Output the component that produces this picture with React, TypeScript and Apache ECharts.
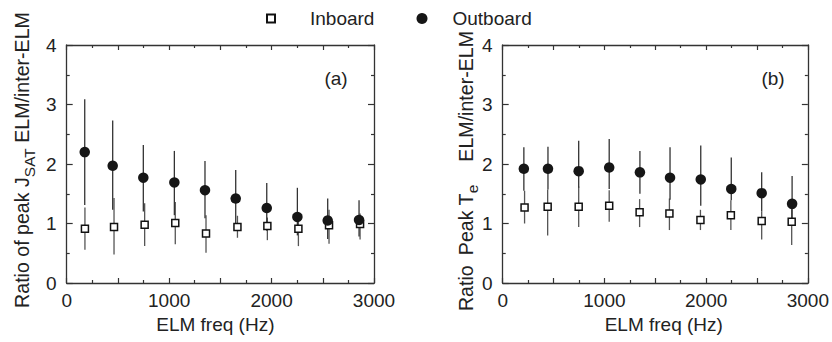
import React, { useEffect, useRef } from 'react';
import * as echarts from 'echarts';

// ---- Data ----
// Panel (a): Ratio of peak J_SAT ELM/inter-ELM
const aOutX = [176, 449, 748, 1051, 1350, 1650, 1953, 2252, 2548, 2854];
const aOutY = [2.2, 1.97, 1.77, 1.69, 1.56, 1.42, 1.26, 1.11, 1.05, 1.06];
const aOutHi = [3.09, 2.73, 2.32, 2.22, 2.05, 1.9, 1.68, 1.6, 1.42, 1.39];
const aOutLo = [1.31, 1.23, 1.2, 1.14, 1.09, 0.98, 0.88, 0.8, 0.74, 0.78];
const aInX = [178, 462, 761, 1060, 1360, 1667, 1959, 2262, 2561, 2864];
const aInY = [0.91, 0.94, 0.98, 1.01, 0.83, 0.94, 0.96, 0.91, 0.97, 0.99];
const aInHi = [1.27, 1.43, 1.34, 1.36, 1.14, 1.13, 1.1, 1.05, 1.23, 1.17];
const aInLo = [0.56, 0.48, 0.62, 0.65, 0.51, 0.76, 0.72, 0.62, 0.66, 0.73];

// Panel (b): Ratio Peak T_e ELM/inter-ELM
const bOutX = [208, 445, 747, 1047, 1349, 1645, 1947, 2247, 2546, 2845];
const bOutY = [1.92, 1.92, 1.88, 1.94, 1.86, 1.77, 1.74, 1.58, 1.51, 1.33];
const bOutHi = [2.28, 2.29, 2.39, 2.42, 2.22, 2.28, 2.31, 2.11, 1.86, 1.8];
const bOutLo = [1.55, 1.57, 1.6, 1.58, 1.5, 1.4, 1.3, 1.39, 1.2, 1.05];
const bInX = [215, 442, 747, 1047, 1346, 1639, 1944, 2243, 2546, 2841];
const bInY = [1.27, 1.28, 1.28, 1.3, 1.19, 1.17, 1.06, 1.14, 1.04, 1.03];
const bInHi = [1.55, 1.57, 1.62, 1.56, 1.41, 1.42, 1.23, 1.39, 1.2, 1.3];
const bInLo = [1.0, 0.8, 0.94, 1.03, 0.94, 0.89, 0.89, 0.89, 0.73, 0.64];

const X_MIN = 0;
const X_MAX = 3000;
const X_INTERVAL = 500;
const X_LABEL_STEP = 1000;
const Y_MIN = 0;
const Y_MAX = 4;
const Y_INTERVAL = 1;

const seriesNames = ['Inboard', 'Outboard'];
const xTitle = 'ELM freq (Hz)';
const panelLabels = ['(a)', '(b)'];

const FONT = '"Liberation Sans", Arial, Helvetica, sans-serif';
const TEXT = '#222';
const AXIS = '#333';
const FS = 19;
const TFS = 19.6;

export default function App() {
  const ref = useRef<HTMLDivElement>(null);

  useEffect(() => {
    if (!ref.current) return;
    const chart = echarts.init(ref.current, undefined, { renderer: 'svg' });

    const grids = [
      { left: 66.7, top: 45, width: 307.3, height: 238 },
      { left: 502.7, top: 45, width: 307.6, height: 238 },
    ];

    const lineStyle = { color: AXIS, width: 1.3 };
    const tickStyle = { color: AXIS, width: 1.2 };

    const xAxes: any[] = [];
    const yAxes: any[] = [];
    const titlePad = [[0, 10, 0, 0], [0, 0, 0, 17]];
    grids.forEach((_, gi) => {
      const baseX = {
        type: 'value',
        gridIndex: gi,
        min: X_MIN,
        max: X_MAX,
        interval: X_INTERVAL,
        axisLine: { show: true, onZero: false, lineStyle },
        axisTick: { show: true, inside: true, length: 5, lineStyle: tickStyle },
        minorTick: { show: true, splitNumber: 2, length: 3, lineStyle: tickStyle },
        splitLine: { show: false },
      };
      xAxes.push({
        ...baseX,
        position: 'bottom',
        axisLabel: {
          show: true,
          margin: 8,
          fontSize: FS,
          color: TEXT,
          fontFamily: FONT,
          formatter: (v: number) => (v % X_LABEL_STEP === 0 ? String(v) : ''),
        },
        name: xTitle,
        nameLocation: 'middle',
        nameGap: 31,
        nameTextStyle: { fontSize: FS, color: TEXT, fontFamily: FONT, padding: titlePad[gi] },
      });
      xAxes.push({ ...baseX, position: 'top', axisLabel: { show: false } });

      const baseY = {
        type: 'value',
        gridIndex: gi,
        min: Y_MIN,
        max: Y_MAX,
        interval: Y_INTERVAL,
        axisLine: { show: true, onZero: false, lineStyle },
        axisTick: { show: true, inside: true, length: 6, lineStyle: tickStyle },
        minorTick: { show: true, splitNumber: 2, length: 3, lineStyle: tickStyle },
        splitLine: { show: false },
      };
      yAxes.push({
        ...baseY,
        position: 'left',
        axisLabel: { show: true, margin: 10, fontSize: FS, color: TEXT, fontFamily: FONT },
      });
      yAxes.push({ ...baseY, position: 'right', axisLabel: { show: false } });
    });

    const errRender = (color: string) => (params: any, api: any) => {
      const x = api.value(0);
      const p1 = api.coord([x, api.value(1)]);
      const p2 = api.coord([x, api.value(2)]);
      return {
        type: 'line',
        shape: { x1: p1[0], y1: p1[1], x2: p2[0], y2: p2[1] },
        style: { stroke: color, lineWidth: 1.3 },
      };
    };

    const panels = [
      { inX: aInX, inY: aInY, inHi: aInHi, inLo: aInLo, outX: aOutX, outY: aOutY, outHi: aOutHi, outLo: aOutLo },
      { inX: bInX, inY: bInY, inHi: bInHi, inLo: bInLo, outX: bOutX, outY: bOutY, outHi: bOutHi, outLo: bOutLo },
    ];

    const series: any[] = [];
    panels.forEach((p, gi) => {
      const xi = gi * 2;
      const yi = gi * 2;
      series.push({
        type: 'custom',
        name: 'Inboard range',
        xAxisIndex: xi,
        yAxisIndex: yi,
        z: 1,
        renderItem: errRender('#555'),
        encode: { x: 0, y: [1, 2] },
        data: p.inX.map((x, i) => [x, p.inLo[i], p.inHi[i]]),
        silent: true,
      });
      series.push({
        type: 'custom',
        name: 'Outboard range',
        xAxisIndex: xi,
        yAxisIndex: yi,
        z: 1,
        renderItem: errRender('#333'),
        encode: { x: 0, y: [1, 2] },
        data: p.outX.map((x, i) => [x, p.outLo[i], p.outHi[i]]),
        silent: true,
      });
      series.push({
        type: 'scatter',
        name: seriesNames[0],
        xAxisIndex: xi,
        yAxisIndex: yi,
        z: 3,
        symbol: 'rect',
        symbolSize: 7,
        itemStyle: { color: '#fff', borderColor: '#111', borderWidth: 1.5, opacity: 1 },
        data: p.inX.map((x, i) => [x, p.inY[i]]),
      });
      series.push({
        type: 'scatter',
        name: seriesNames[1],
        xAxisIndex: xi,
        yAxisIndex: yi,
        z: 4,
        symbol: 'circle',
        symbolSize: 10.5,
        itemStyle: { color: '#161616', opacity: 1 },
        data: p.outX.map((x, i) => [x, p.outY[i]]),
      });
    });

    const legendText = { fontSize: FS, color: TEXT, fontFamily: FONT };

    chart.setOption({
      animation: false,
      backgroundColor: '#fff',
      grid: grids,
      xAxis: xAxes,
      yAxis: yAxes,
      series,
      legend: [
        {
          data: [{ name: seriesNames[0], icon: 'rect' }],
          left: 261,
          top: 4,
          itemWidth: 8,
          itemHeight: 8,
          selectedMode: false,
          textStyle: { ...legendText, padding: [0, 0, 0, 30] },
        },
        {
          data: [{ name: seriesNames[1], icon: 'circle' }],
          left: 411.5,
          top: 4,
          itemWidth: 11,
          itemHeight: 11,
          selectedMode: false,
          textStyle: { ...legendText, padding: [0, 0, 0, 20] },
        },
      ],
      graphic: [
        {
          type: 'text',
          x: 22,
          y: 160,
          rotation: Math.PI / 2,
          style: {
            text: '{n|Ratio of peak J}{s|SAT}{n| ELM/inter-ELM}',
            align: 'center',
            verticalAlign: 'middle',
            fill: TEXT,
            rich: {
              n: { fontSize: TFS, fontFamily: FONT, fill: TEXT, lineHeight: 20, verticalAlign: 'top' },
              s: { fontSize: 15.5, fontFamily: FONT, fill: TEXT, lineHeight: 15, verticalAlign: 'top', padding: [9, 0, 0, 0] },
            },
          },
        },
        {
          type: 'text',
          x: 466,
          y: 171,
          rotation: Math.PI / 2,
          style: {
            text: '{n|Ratio}{p|Peak T}{s|e}{q|ELM/inter-ELM}',
            align: 'center',
            verticalAlign: 'middle',
            fill: TEXT,
            rich: {
              n: { fontSize: TFS, fontFamily: FONT, fill: TEXT, lineHeight: 20, verticalAlign: 'top' },
              p: { fontSize: TFS, fontFamily: FONT, fill: TEXT, lineHeight: 20, verticalAlign: 'top', padding: [0, 0, 0, 10] },
              q: { fontSize: TFS, fontFamily: FONT, fill: TEXT, lineHeight: 20, verticalAlign: 'top', padding: [0, 0, 0, 23] },
              s: { fontSize: 15.5, fontFamily: FONT, fill: TEXT, lineHeight: 15, verticalAlign: 'top', padding: [8, 0, 0, 0] },
            },
          },
        },
        {
          type: 'text',
          x: 336,
          y: 78,
          style: { text: panelLabels[0], align: 'center', verticalAlign: 'middle', fontSize: FS, fontFamily: FONT, fill: TEXT },
        },
        {
          type: 'text',
          x: 773,
          y: 78,
          style: { text: panelLabels[1], align: 'center', verticalAlign: 'middle', fontSize: FS, fontFamily: FONT, fill: TEXT },
        },
      ],
    });

    return () => chart.dispose();
  }, []);

  return (
    <div
      ref={ref}
      style={{ position: 'fixed', left: 0, top: 0, width: 832, height: 342, background: '#fff' }}
    />
  );
}
